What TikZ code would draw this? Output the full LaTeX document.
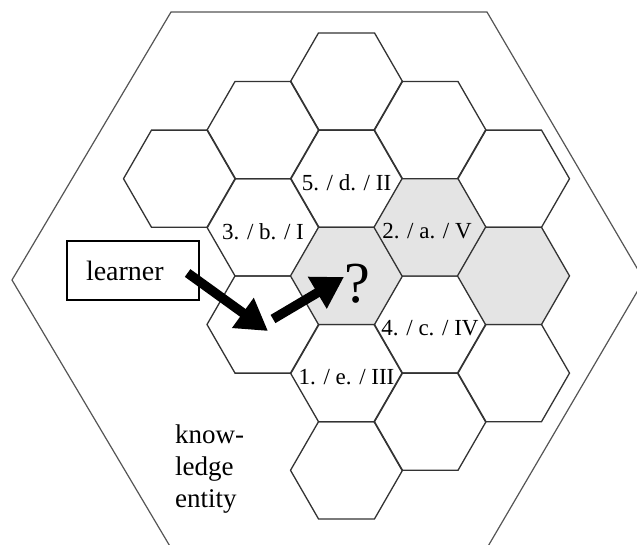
\documentclass[tikz,border=0pt]{standalone}
\usepackage{fontspec}
\setmainfont{Liberation Serif}
\usetikzlibrary{arrows.meta,positioning}
\definecolor{cellgray}{HTML}{E4E4E4}
\definecolor{rimgray}{HTML}{555555}
\definecolor{edgegray}{HTML}{333333}

\tikzset{
  rim/.style={draw=rimgray, line width=1.2pt},
  cell/.style={draw=edgegray, line width=1.3pt},
  cellshade/.style={cell, fill=cellgray},
  celltag/.style={font=\fontsize{23}{26}\selectfont, inner sep=0pt, yshift=-4pt},
  bigarrow/.style={line width=9.5pt, -{Triangle[length=31pt,width=35pt]}}
}

\newcommand{\hexcell}[3][cell]{%
  \draw[#1] (#2,#3) ++(-56,0) -- ++(28,-48.6) -- ++(56,0) -- ++(28,48.6)
    -- ++(-28,48.6) -- ++(-56,0) -- cycle;}

\begin{document}
\begin{tikzpicture}[x=1pt,y=-1pt]
  \useasboundingbox (0,0) rectangle (637,544);
  \clip (0,0) rectangle (637,544);
  \fill[white] (0,0) rectangle (637,544);
  \draw[rim] (12,280) -- (171,12) -- (487,12) -- (644,280) -- (487,548) -- (171,548) -- cycle;

  \foreach \cx/\cy in {179.5/178.7, 263/130.1, 263/227.3, 263/324.5,
      346.5/81.5, 346.5/178.7, 346.5/373.1, 346.5/470.3,
      430/130.1, 430/324.5, 430/421.7, 513.5/178.7, 513.5/373.1}
    \hexcell{\cx}{\cy};
  \foreach \cx/\cy in {346.5/275.9, 430/227.3, 513.5/275.9}
    \hexcell[cellshade]{\cx}{\cy};

  \node[celltag] (tag5) at (346.5,178.7) {5. / d. / II};
  \node[celltag] (tag3) at (263,227.3) {3. / b. / I};
  \node[celltag] (tag2) at (427,227.3) {2. / a. / V};
  \node[celltag] (tag4) at (430,324.5) {4. / c. / IV};
  \node[celltag] (tag1) at (346.5,373.1) {1. / e. / III};

  \node[font=\fontsize{58}{62}\selectfont, inner sep=0pt] (query) at (357,284) {?};

  \node[draw=black, line width=1.2pt, minimum width=132pt, minimum height=59pt,
    text width=94pt, inner xsep=19pt, inner ysep=0pt, align=left,
    font=\fontsize{28}{30}\selectfont] (learner) at (133,270.5) {learner};

  \node[font=\fontsize{27}{32}\selectfont, align=left, anchor=north west,
    inner sep=0pt] (entity) at (175,425) {know-\\ledge\\entity};

  \coordinate (drop) at (268,331);
  \coordinate (lift) at (273,319);
  \draw[bigarrow] ([shift={(-12pt,-2.5pt)}]learner.east) -- (drop);
  \draw[bigarrow] (lift) -- ([yshift=7pt]query.west);
\end{tikzpicture}
\end{document}
